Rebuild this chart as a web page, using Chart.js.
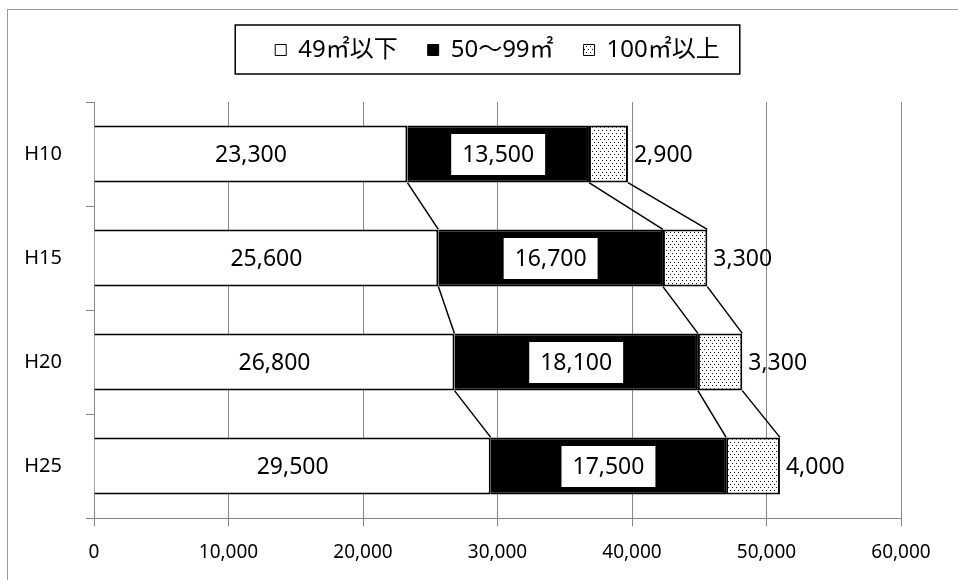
<!DOCTYPE html>
<html>
<head>
<meta charset="utf-8">
<script src="https://cdn.jsdelivr.net/npm/chart.js@4/dist/chart.umd.min.js"></script>
<style>
  body { margin: 0; background: #fff; }
</style>
</head>
<body>
<canvas id="chart" width="958" height="580"></canvas>
<script>
const categories = ['H10', 'H15', 'H20', 'H25'];
const seriesNames = ['49㎡以下', '50～99㎡', '100㎡以上'];
const small = [23300, 25600, 26800, 29500];
const middle = [13500, 16700, 18100, 17500];
const large = [2900, 3300, 3300, 4000];
const xMax = 60000;
const xStep = 10000;

Chart.defaults.font.family = "'Noto Sans', 'Noto Sans CJK JP', sans-serif";
Chart.defaults.color = '#000';

const ctx = document.getElementById('chart').getContext('2d');

// dotted fill for the 100㎡以上 series
function dotPattern() {
  const c = document.createElement('canvas');
  c.width = 4;
  c.height = 6;
  const g = c.getContext('2d');
  g.fillStyle = '#fff';
  g.fillRect(0, 0, 4, 6);
  g.fillStyle = '#111';
  g.fillRect(0, 1, 1, 1);
  g.fillRect(2, 4, 1, 1);
  return ctx.createPattern(c, 'repeat');
}

const fmt = v => v.toLocaleString('en-US');
const gray = '#888';

const extras = {
  id: 'extras',
  afterDatasetsDraw(chart) {
    const c = chart.ctx;
    c.save();
    // series lines between bars
    c.strokeStyle = '#000';
    c.lineWidth = 1.5;
    chart.data.datasets.forEach((ds, d) => {
      const els = chart.getDatasetMeta(d).data;
      for (let i = 0; i < els.length - 1; i++) {
        const a = els[i], b = els[i + 1];
        c.beginPath();
        c.moveTo(a.x, a.y + a.height / 2);
        c.lineTo(b.x, b.y - b.height / 2);
        c.stroke();
      }
    });
    // data labels
    c.font = "23px 'Noto Sans', sans-serif";
    c.textBaseline = 'middle';
    chart.data.datasets.forEach((ds, d) => {
      chart.getDatasetMeta(d).data.forEach((el, i) => {
        const txt = fmt(ds.data[i]);
        const mid = (el.x + el.base) / 2;
        if (d === 0) {
          c.textAlign = 'center';
          c.fillStyle = '#000';
          c.fillText(txt, mid, el.y + 1);
        } else if (d === 1) {
          const w = c.measureText(txt).width + 22;
          c.fillStyle = '#fff';
          c.fillRect(mid - w / 2, el.y - 20, w, 41);
          c.textAlign = 'center';
          c.fillStyle = '#000';
          c.fillText(txt, mid, el.y + 1);
        } else {
          c.textAlign = 'left';
          c.fillStyle = '#000';
          c.fillText(txt, el.x + 6, el.y + 1);
        }
      });
    });
    c.restore();
  },
  afterDraw(chart) {
    const c = chart.ctx;
    c.save();
    // outer frame
    c.strokeStyle = '#999';
    c.lineWidth = 1;
    c.strokeRect(7.5, 9.5, 1000, 1000);
    // box round the legend
    const boxes = chart.legend.legendHitBoxes;
    if (boxes && boxes.length) {
      const left = Math.min(...boxes.map(b => b.left)) - 40;
      const right = Math.max(...boxes.map(b => b.left + b.width)) + 20;
      const cy = boxes[0].top + boxes[0].height / 2;
      c.strokeStyle = '#000';
      c.lineWidth = 1.5;
      c.strokeRect(left, cy - 25, right - left, 49);
    }
    c.restore();
  }
};

new Chart(ctx, {
  type: 'bar',
  data: {
    labels: categories,
    datasets: [
      {
        label: seriesNames[0],
        data: small,
        backgroundColor: '#fff',
        borderColor: '#000',
        borderWidth: 2,
        borderSkipped: 'start'
      },
      {
        label: seriesNames[1],
        data: middle,
        backgroundColor: '#000',
        borderColor: '#000',
        borderWidth: 2
      },
      {
        label: seriesNames[2],
        data: large,
        backgroundColor: dotPattern(),
        borderColor: '#000',
        borderWidth: 2,
        borderSkipped: false
      }
    ]
  },
  options: {
    indexAxis: 'y',
    responsive: false,
    animation: false,
    layout: { padding: { top: 8, left: 0, right: 57, bottom: 0 } },
    datasets: {
      bar: { barPercentage: 0.55, categoryPercentage: 1 }
    },
    plugins: {
      tooltip: { enabled: false },
      legend: {
        position: 'top',
        fullSize: false,
        labels: {
          boxWidth: 11,
          boxHeight: 11,
          padding: 30,
          color: '#000',
          font: { size: 24 },
          generateLabels(chart) {
            const items = Chart.defaults.plugins.legend.labels.generateLabels(chart);
            items.forEach(it => { it.lineWidth = 1; });
            return items;
          }
        }
      },
      // empty spacer between legend and plot
      subtitle: {
        display: true,
        text: '',
        position: 'top',
        fullSize: false,
        weight: 500,
        font: { size: 10 },
        padding: { top: 0, bottom: 18 }
      }
    },
    scales: {
      x: {
        stacked: true,
        min: 0,
        max: xMax,
        ticks: {
          stepSize: xStep,
          padding: 15,
          font: { size: 19 },
          color: '#000',
          callback: v => fmt(v)
        },
        grid: { color: gray, tickLength: 8, drawTicks: true },
        border: { color: gray },
        afterFit(scale) { scale.height = 62; }
      },
      y: {
        stacked: true,
        ticks: { padding: 24, font: { size: 20 }, color: '#000' },
        grid: { drawOnChartArea: false, color: gray, tickLength: 8, offset: true },
        border: { color: gray },
        afterFit(scale) { scale.width = 94; }
      }
    }
  },
  plugins: [extras]
});
</script>
</body>
</html>
